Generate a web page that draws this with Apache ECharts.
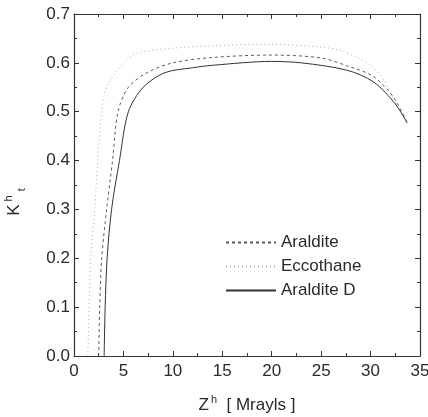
<!DOCTYPE html>
<html>
<head>
<meta charset="utf-8">
<script src="https://cdn.jsdelivr.net/npm/echarts@6/dist/echarts.min.js"></script>
<style>
  html, body { margin: 0; padding: 0; background: #fff; }
  #chart { width: 428px; height: 417px; }
</style>
</head>
<body>
<div id="chart"></div>
<script>
// Z^h [Mrayls] vs K^h_t
const aralditeZ = [2.5, 2.6, 2.8, 3.3, 3.9, 4.45, 5.5, 7.4, 10, 14, 20, 25, 27.6, 30.3, 32.3, 33.7];
const aralditeK = [0.0, 0.1, 0.2, 0.3, 0.4, 0.5, 0.55, 0.58, 0.6, 0.611, 0.616, 0.61, 0.594, 0.572, 0.53, 0.478];

const eccothaneZ = [1.4, 1.7, 2.1, 2.4, 2.8, 3.3, 5.0, 6.4, 10, 14, 20, 25, 27, 30, 31.8, 32.7, 33.7];
const eccothaneK = [0.0, 0.2, 0.3, 0.4, 0.5, 0.55, 0.6, 0.62, 0.63, 0.635, 0.638, 0.632, 0.625, 0.595, 0.55, 0.51, 0.48];

const araldDZ = [3.05, 3.15, 3.35, 3.8, 4.6, 5.5, 7.0, 9.2, 12, 14, 20, 23, 27.6, 30.3, 32.5, 33.7];
const araldDK = [0.0, 0.1, 0.2, 0.3, 0.4, 0.5, 0.55, 0.58, 0.59, 0.595, 0.603, 0.6, 0.585, 0.561, 0.516, 0.477];

const zip = (xs, ys) => xs.map((x, i) => [x, ys[i]]);

const axisColor = '#2f3a2f';
const textColor = '#2a2a2a';
const fontFamily = 'Liberation Sans, Arial, sans-serif';

const baseAxis = {
  type: 'value',
  axisLine: { show: true, onZero: false, lineStyle: { color: axisColor, width: 1.2 } },
  axisTick: { show: true, inside: true, length: 5, lineStyle: { color: axisColor } },
  minorTick: { show: true, splitNumber: 2, length: 3, lineStyle: { color: axisColor } },
  splitLine: { show: false },
};

const option = {
  animation: false,
  backgroundColor: '#fff',
  grid: { left: 74, right: 8, top: 14, bottom: 61, containLabel: false, outerBoundsMode: 'none' },
  legend: {
    orient: 'vertical',
    left: 220,
    top: 229,
    itemWidth: 50,
    itemHeight: 14,
    itemGap: 7,
    itemStyle: { opacity: 0 },
    textStyle: { fontSize: 17, color: textColor, fontFamily: fontFamily },
    data: ['Araldite', 'Eccothane', 'Araldite D'],
  },
  xAxis: [
    Object.assign({}, baseAxis, {
      min: 0, max: 35, interval: 5,
      axisLabel: { fontSize: 17, color: textColor, fontFamily: fontFamily, margin: 7 },
      name: '{n|Z}{sup|h}{n|  [ Mrayls ]}',
      nameLocation: 'middle',
      nameGap: 38,
      nameTextStyle: {
        rich: {
          n: { fontSize: 17, color: textColor, fontFamily: fontFamily },
          sup: { fontSize: 11, color: textColor, fontFamily: fontFamily, padding: [0, 0, 12, 2] },
        },
      },
    }),
    Object.assign({}, baseAxis, {
      position: 'top', min: 0, max: 35, interval: 5,
      axisLabel: { show: false },
    }),
  ],
  yAxis: [
    Object.assign({}, baseAxis, {
      min: 0, max: 0.7, interval: 0.1,
      axisLabel: {
        fontSize: 17, color: textColor, fontFamily: fontFamily, margin: 4,
        formatter: v => v.toFixed(1),
      },
      name: '{n|K}{sup|h}{sub|t}',
      nameLocation: 'middle',
      nameGap: 47,
      nameTextStyle: {
        padding: [0, 34, 0, 0],
        rich: {
          n: { fontSize: 17, color: textColor, fontFamily: fontFamily },
          sup: { fontSize: 11, color: textColor, fontFamily: fontFamily, padding: [0, 0, 12, 3] },
          sub: { fontSize: 11, color: textColor, fontFamily: fontFamily, padding: [14, 0, 0, 4] },
        },
      },
    }),
    Object.assign({}, baseAxis, {
      position: 'right', min: 0, max: 0.7, interval: 0.1,
      axisLabel: { show: false },
    }),
  ],
  series: [
    {
      name: 'Araldite', type: 'line', smooth: 0.3, symbol: 'none',
      data: zip(aralditeZ, aralditeK),
      lineStyle: { color: '#5a5a5a', width: 1, type: [3, 3] },
      itemStyle: { color: '#5a5a5a' },
    },
    {
      name: 'Eccothane', type: 'line', smooth: 0.3, symbol: 'none',
      data: zip(eccothaneZ, eccothaneK),
      lineStyle: { color: '#b0b0b0', width: 1, type: [1, 3] },
      itemStyle: { color: '#b0b0b0' },
    },
    {
      name: 'Araldite D', type: 'line', smooth: 0.3, symbol: 'none',
      data: zip(araldDZ, araldDK),
      lineStyle: { color: '#333', width: 1 },
      itemStyle: { color: '#333' },
    },
  ],
};

const chart = echarts.init(document.getElementById('chart'));
chart.setOption(option);
</script>
</body>
</html>
